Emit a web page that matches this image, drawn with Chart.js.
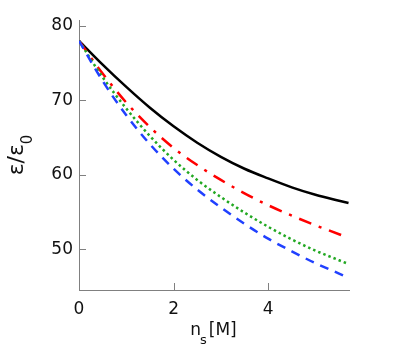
<!DOCTYPE html>
<html><head><meta charset="utf-8">
<script src="https://cdn.jsdelivr.net/npm/chart.js@4/dist/chart.umd.min.js"></script>
<style>html,body{margin:0;padding:0;background:#fff}#wrap{width:399px;height:349px}</style>
</head><body><div id="wrap"><canvas id="c" width="399" height="349"></canvas></div>
<script>
const ns = [0, 0.5, 1, 1.5, 2, 2.5, 3, 3.5, 4, 4.5, 5, 5.5, 5.7];
const blackSeries = [78, 74.8, 71.8, 69.0, 66.5, 64.3, 62.4, 60.8, 59.5, 58.3, 57.3, 56.5, 56.2];
const redSeries   = [78, 73.6, 69.7, 66.4, 63.6, 61.3, 59.3, 57.5, 55.9, 54.5, 53.2, 52.0, 51.5];
const greenSeries = [78, 73.1, 68.9, 65.2, 62.0, 59.3, 57.0, 54.9, 53.0, 51.3, 49.8, 48.5, 48.0];
const blueSeries  = [78, 72.6, 68.0, 64.1, 60.8, 58.0, 55.6, 53.4, 51.4, 49.7, 48.1, 46.7, 46.1];
const xTicks = [0, 2, 4];
const yTicks = [50, 60, 70, 80];

const pts = arr => arr.map((v, i) => ({x: ns[i], y: v}));
const AXIS = '#808080';
const FONT = 'DejaVu Sans';

const innerTicks = {
  id: 'innerTicks',
  afterDraw(chart) {
    const ctx = chart.ctx, xs = chart.scales.x, ys = chart.scales.y, a = chart.chartArea;
    ctx.save();
    ctx.strokeStyle = AXIS; ctx.lineWidth = 1;
    xTicks.forEach(t => { const px = Math.round(xs.getPixelForValue(t)) + 0.5;
      ctx.beginPath(); ctx.moveTo(px, a.bottom); ctx.lineTo(px, a.bottom - 7); ctx.stroke(); });
    yTicks.forEach(t => { const py = Math.round(ys.getPixelForValue(t)) + 0.5;
      ctx.beginPath(); ctx.moveTo(a.left, py); ctx.lineTo(a.left + 7, py); ctx.stroke(); });
    ctx.fillStyle = '#111';
    ctx.textBaseline = 'alphabetic';
    const cx = (a.left + a.right) / 2;
    ctx.font = '17px "' + FONT + '"';
    const wN = ctx.measureText('n').width;
    ctx.font = '13px "' + FONT + '"';
    const wS = ctx.measureText('s').width;
    ctx.font = '17px "' + FONT + '"';
    const wM = ctx.measureText('[M]').width;
    let x0 = cx - (wN + wS + wM) / 2 - 1;
    const by = 335;
    ctx.textAlign = 'left';
    ctx.fillText('n', x0, by);
    ctx.font = '13px "' + FONT + '"';
    ctx.fillText('s', x0 + wN - 1, by + 9);
    ctx.font = '17px "' + FONT + '"';
    ctx.fillText('[M]', x0 + wN + wS + 1, by);
    ctx.save();
    ctx.translate(23, (a.top + a.bottom) / 2);
    ctx.rotate(-Math.PI / 2);
    ctx.font = '22px "' + FONT + '"';
    const wMain = ctx.measureText('ε/ε').width;
    ctx.font = '15px "' + FONT + '"';
    const w0 = ctx.measureText('0').width;
    const sx = -(wMain + w0) / 2;
    ctx.font = '22px "' + FONT + '"';
    ctx.fillText('ε/ε', sx, 0);
    ctx.font = '15px "' + FONT + '"';
    ctx.fillText('0', sx + wMain, 9);
    ctx.restore();
    ctx.restore();
  }
};

new Chart(document.getElementById('c'), {
  type: 'line',
  data: {
    datasets: [
      {data: pts(blueSeries), borderColor: '#2040ff', borderWidth: 2.5, borderDash: [9, 7], pointRadius: 0, cubicInterpolationMode: 'monotone', fill: false},
      {data: pts(greenSeries), borderColor: '#22a822', borderWidth: 2.5, borderDash: [2.5, 3], pointRadius: 0, cubicInterpolationMode: 'monotone', fill: false},
      {data: pts(redSeries), borderColor: '#ff0000', borderWidth: 2.5, borderDash: [13, 8, 3, 8], pointRadius: 0, cubicInterpolationMode: 'monotone', fill: false},
      {data: pts(blackSeries), borderColor: '#000000', borderWidth: 2.5, pointRadius: 0, cubicInterpolationMode: 'monotone', fill: false}
    ]
  },
  options: {
    responsive: false, animation: false, devicePixelRatio: 1,
    layout: {padding: {left: 0, right: 50, top: 20, bottom: 0}},
    plugins: {legend: {display: false}, tooltip: {enabled: false}},
    scales: {
      x: {
        type: 'linear', min: 0, max: 5.71,
        afterBuildTicks: s => { s.ticks = xTicks.map(v => ({value: v})); },
        afterFit: s => { s.height = 59; },
        grid: {display: true, drawOnChartArea: false, drawTicks: false},
        border: {display: true, color: AXIS, width: 1},
        ticks: {color: '#111', font: {family: FONT, size: 17}, padding: 9, maxRotation: 0}
      },
      y: {
        type: 'linear', min: 44.5, max: 80.8,
        afterBuildTicks: s => { s.ticks = yTicks.map(v => ({value: v})); },
        afterFit: s => { s.width = 79; },
        grid: {display: true, drawOnChartArea: false, drawTicks: false},
        border: {display: true, color: AXIS, width: 1},
        ticks: {color: '#111', font: {family: FONT, size: 17}, padding: 6}
      }
    }
  },
  plugins: [innerTicks]
});
</script></body></html>
